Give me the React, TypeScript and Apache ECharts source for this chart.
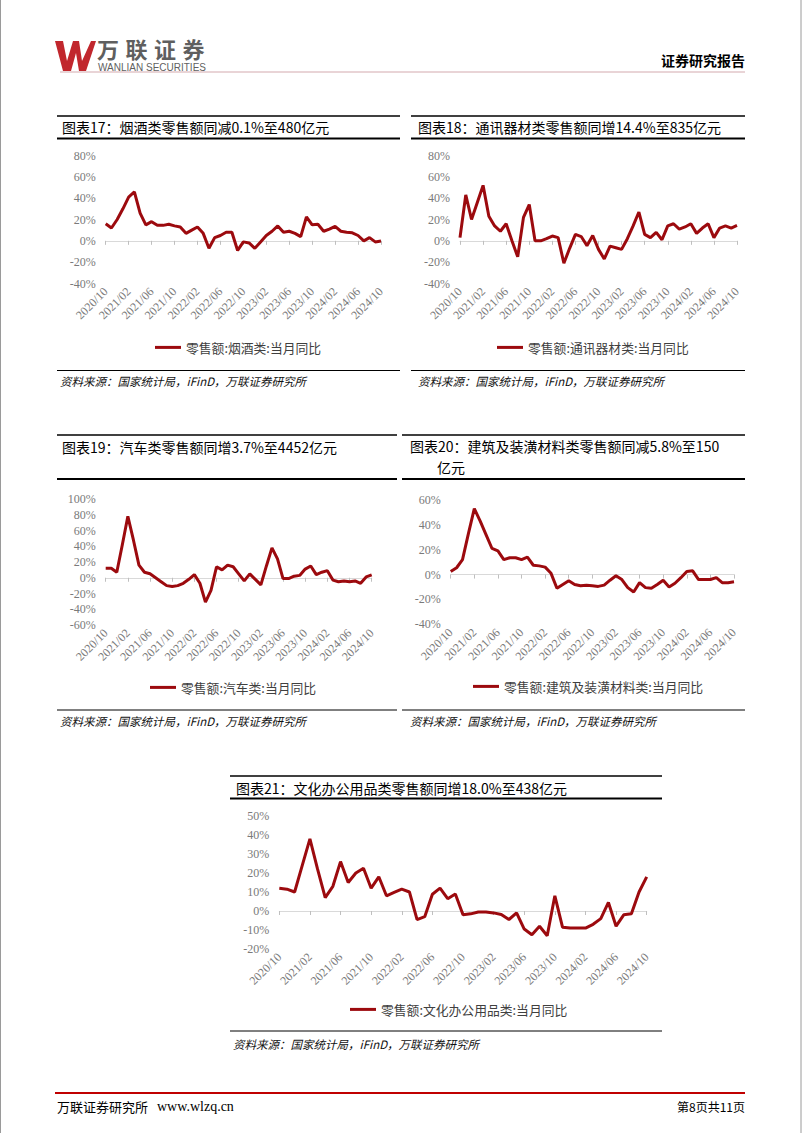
import React, { useEffect, useRef } from "react";
import * as echarts from "echarts";

const months = [
  "2020/10", "2020/11", "2020/12",
  "2021/01", "2021/02", "2021/03", "2021/04", "2021/05", "2021/06", "2021/07", "2021/08", "2021/09", "2021/10", "2021/11", "2021/12",
  "2022/01", "2022/02", "2022/03", "2022/04", "2022/05", "2022/06", "2022/07", "2022/08", "2022/09", "2022/10", "2022/11", "2022/12",
  "2023/01", "2023/02", "2023/03", "2023/04", "2023/05", "2023/06", "2023/07", "2023/08", "2023/09", "2023/10", "2023/11", "2023/12",
  "2024/01", "2024/02", "2024/03", "2024/04", "2024/05", "2024/06", "2024/07", "2024/08", "2024/09", "2024/10",
];

const tobaccoYoY = [16, 12, 20, 30, 41, 46, 26, 15, 18, 14.5, 14.5, 15.5, 14, 13, 7, 10, 13, 7, -7, 3, 5, 8, 8, -9, -1, -2, -7, -1, 5, 9, 14, 8, 9, 7, 4, 22.5, 15, 15.5, 9, 11, 13.5, 9, 8, 7.5, 5, 0, 3, -1, -0.1];
const commYoY = [3, 43, 20, 36, 52, 23, 14, 9, 16, 0, -15, 22, 34, 0, 0, 2, 4.5, 3, -21, -7, 6, 4, -4.5, 5, -8, -17, -5, -6.5, -8, 2, 14, 27, 6, 3, 8, 1, 14, 16, 11, 13, 16, 7, 12, 16, 3, 12, 14, 12, 14.4];
const autoYoY = [12, 12, 7, 42, 78, 48, 16, 7, 5, 0, -5, -10, -11, -10, -7, -2, 4, -7, -31, -16, 14, 10, 16, 14, 5, -4, 5, -2, -9, 15, 38, 24, -1, -1, 2, 3, 11, 15, 4, 7, 9, -3, -5, -4, -5, -4, -7, 1, 3.7];
const buildYoY = [2.5, 5.5, 12, 33, 53, 43, 32, 21, 19, 12, 13.5, 13.5, 12, 14, 7.5, 7, 6, 1, -11, -8, -5, -8, -9, -8.5, -9, -9.5, -8.5, -4.5, -1, -4, -10.5, -14, -6.5, -10.5, -11, -8, -4.5, -10, -7, -2.5, 2.5, 3, -4, -4, -4, -2.5, -6.5, -6.5, -5.8];
const officeYoY = [12, 11.5, 10, 24, 38, 22, 7, 13, 26, 15, 20, 22.5, 12, 18, 8, 9.8, 11.5, 10, -4.5, -3, 8.8, 12, 6.5, 9, -2, -1.5, -0.5, -0.5, -1, -1.8, -4.5, -1, -9.5, -12.5, -8, -13, 8, -8.5, -9, -9, -9, -7, -4, 4.5, -8, -2, -1.5, 10, 18];

const seriesNames = [
  "零售额:烟酒类:当月同比",
  "零售额:通讯器材类:当月同比",
  "零售额:汽车类:当月同比",
  "零售额:建筑及装潢材料类:当月同比",
  "零售额:文化办公用品类:当月同比",
];
const seriesData = [tobaccoYoY, commYoY, autoYoY, buildYoY, officeYoY];
const yMins = [-40, -40, -60, -40, -20];
const yMaxs = [80, 80, 100, 60, 50];
const ySteps = [20, 20, 20, 20, 10];

const titles = [
  "图表17：烟酒类零售额同减0.1%至480亿元",
  "图表18：通讯器材类零售额同增14.4%至835亿元",
  "图表19：汽车类零售额同增3.7%至4452亿元",
  "图表20：建筑及装潢材料类零售额同减5.8%至150",
  "图表21：文化办公用品类零售额同增18.0%至438亿元",
];
const sourceText = "资料来源：国家统计局，iFinD，万联证券研究所";
const brandChars = ["万", "联", "证", "券"];

// layout (pixels)
const grids = [
  { left: 105.7, top: 155.5, width: 275.3, height: 128 },
  { left: 460, top: 155.5, width: 277, height: 128 },
  { left: 105.7, top: 499, width: 266, height: 126 },
  { left: 450.7, top: 500, width: 283.3, height: 124.3 },
  { left: 279.3, top: 816, width: 367.4, height: 133 },
];
const legendPos = [
  { left: 155, cy: 349 },
  { left: 497, cy: 349 },
  { left: 150, cy: 689 },
  { left: 473, cy: 688 },
  { left: 350, cy: 1011 },
];
const panelBoxes = [
  { x1: 57, x2: 400, top: 116, bottom: 138.5, titleX: 62, titleY: 127, div: 370.5, srcX: 60, srcY: 381 },
  { x1: 411, x2: 745, top: 116, bottom: 138.5, titleX: 418, titleY: 127, div: 370.5, srcX: 418, srcY: 381 },
  { x1: 57, x2: 397, top: 435, bottom: 479, titleX: 62, titleY: 447, div: 710, srcX: 60, srcY: 721 },
  { x1: 402, x2: 745, top: 435, bottom: 479, titleX: 410, titleY: 446, div: 710, srcX: 410, srcY: 721 },
  { x1: 230, x2: 662, top: 776, bottom: 798.5, titleX: 236, titleY: 788, div: 1031, srcX: 233, srcY: 1044 },
];

const RED = "#9c0a0e";
const LABEL_GRAY = "#7a7a7a";
const CJK = "'Noto Sans CJK SC', sans-serif";
const SERIF = "'Liberation Serif', 'DejaVu Serif', serif";

function hline(x1: number, x2: number, y: number, w: number, color: string) {
  return { type: "line", shape: { x1, y1: y, x2, y2: y }, style: { stroke: color, lineWidth: w }, silent: true };
}
function txt(x: number, y: number, text: string, opts: any) {
  return {
    type: "text",
    x,
    y,
    silent: true,
    style: {
      text,
      fill: opts.fill || "#000",
      fontSize: opts.fontSize || 14,
      fontFamily: opts.fontFamily || CJK,
      fontWeight: opts.fontWeight || "normal",
      fontStyle: opts.fontStyle || "normal",
      textAlign: opts.align || "left",
      textVerticalAlign: "middle",
    },
  };
}

export default function App() {
  const ref = useRef<HTMLDivElement>(null);
  useEffect(() => {
    if (!ref.current) return;
    const chart = echarts.init(ref.current, null, { renderer: "svg" });

    const xAxis: any[] = [];
    const yAxis: any[] = [];
    const series: any[] = [];
    const legend: any[] = [];
    const grid: any[] = [];

    seriesNames.forEach((name, i) => {
      grid.push({ ...grids[i], containLabel: false, outerBoundsMode: "none" });
      xAxis.push({
        type: "category",
        gridIndex: i,
        data: months,
        boundaryGap: false,
        axisLine: { show: true, onZero: true, lineStyle: { color: "#d9d9d9", width: 1 } },
        axisTick: { show: true, interval: 3, length: 4, lineStyle: { color: "#bfbfbf" } },
        axisLabel: { show: false },
        splitLine: { show: false },
      });
      xAxis.push({
        type: "category",
        gridIndex: i,
        data: months,
        boundaryGap: false,
        position: "bottom",
        axisLine: { show: false, onZero: false },
        axisTick: { show: false },
        axisLabel: {
          interval: 3,
          rotate: 45,
          margin: 6,
          color: LABEL_GRAY,
          fontFamily: SERIF,
          fontSize: 12,
        },
        splitLine: { show: false },
      });
      yAxis.push({
        type: "value",
        gridIndex: i,
        min: yMins[i],
        max: yMaxs[i],
        interval: ySteps[i],
        axisLine: { show: false },
        axisTick: { show: false },
        splitLine: { show: false },
        axisLabel: { formatter: "{value}%", color: LABEL_GRAY, fontFamily: SERIF, fontSize: 12, margin: 10 },
      });
      series.push({
        type: "line",
        name,
        xAxisIndex: 2 * i,
        yAxisIndex: i,
        data: seriesData[i],
        symbol: "none",
        lineStyle: { color: RED, width: 3 },
        itemStyle: { color: RED },
      });
      legend.push({
        data: [name],
        left: legendPos[i].left,
        top: legendPos[i].cy - 8,
        padding: 0,
        icon: "rect",
        itemWidth: 26,
        itemHeight: 3,
        selectedMode: false,
        textStyle: { fontSize: 12.8, color: "#404040", fontFamily: CJK, padding: [0, 0, 0, 0] },
      });
    });

    const graphic: any[] = [];
    // page borders
    graphic.push({ type: "line", shape: { x1: 0.5, y1: 0, x2: 0.5, y2: 1133 }, style: { stroke: "#9a9a9a", lineWidth: 1 }, silent: true });
    graphic.push({ type: "line", shape: { x1: 801, y1: 0, x2: 801, y2: 1133 }, style: { stroke: "#9a9a9a", lineWidth: 1 }, silent: true });

    // header
    graphic.push({
      type: "polygon",
      silent: true,
      shape: {
        points: [
          [55, 41], [63, 41], [67, 61], [73, 41], [79, 41], [82, 61], [91, 41], [96, 41],
          [86, 71], [79, 71], [76, 53], [71, 71], [63, 71],
        ],
      },
      style: { fill: "#c1272d" },
    });
    brandChars.forEach((c, k) => {
      graphic.push(txt(97 + k * 28.5, 48, c, { fontSize: 22, fontWeight: "bold", fill: "#5f5f5f" }));
    });
    graphic.push(txt(98, 67, "WANLIAN SECURITIES", { fontSize: 10, fill: "#5f5f5f", fontFamily: "'Liberation Sans', sans-serif" }));
    graphic.push(hline(60, 745, 72, 1, "#d3a9ae"));
    graphic.push(txt(745, 60, "证券研究报告", { fontSize: 14, fontWeight: "bold", align: "right" }));

    // panels
    panelBoxes.forEach((b, i) => {
      graphic.push(hline(b.x1, b.x2, b.top, 1.5, "#000"));
      graphic.push(hline(b.x1, b.x2, b.bottom, 2, "#000"));
      graphic.push(txt(b.titleX, b.titleY, titles[i], { fontSize: 14 }));
      graphic.push(hline(b.x1, b.x2, b.div, 1, "#000"));
      graphic.push(txt(b.srcX, b.srcY, sourceText, { fontSize: 11.5, fontStyle: "italic", fill: "#111" }));
    });
    graphic.push(txt(437, 467, "亿元", { fontSize: 14 }));

    // footer
    graphic.push(hline(55, 745, 1093, 2, "#c00000"));
    graphic.push(txt(57, 1106, "万联证券研究所", { fontSize: 13 }));
    graphic.push(txt(157, 1106, "www.wlzq.cn", { fontSize: 14, fontFamily: SERIF }));
    graphic.push(txt(745, 1106, "第8页共11页", { fontSize: 12, align: "right" }));

    chart.setOption({
      animation: false,
      backgroundColor: "#fff",
      textStyle: { fontFamily: CJK },
      grid,
      xAxis,
      yAxis,
      series,
      legend,
      graphic,
    });
    return () => chart.dispose();
  }, []);
  return <div ref={ref} style={{ position: "absolute", left: 0, top: 0, width: 802, height: 1133 }} />;
}
